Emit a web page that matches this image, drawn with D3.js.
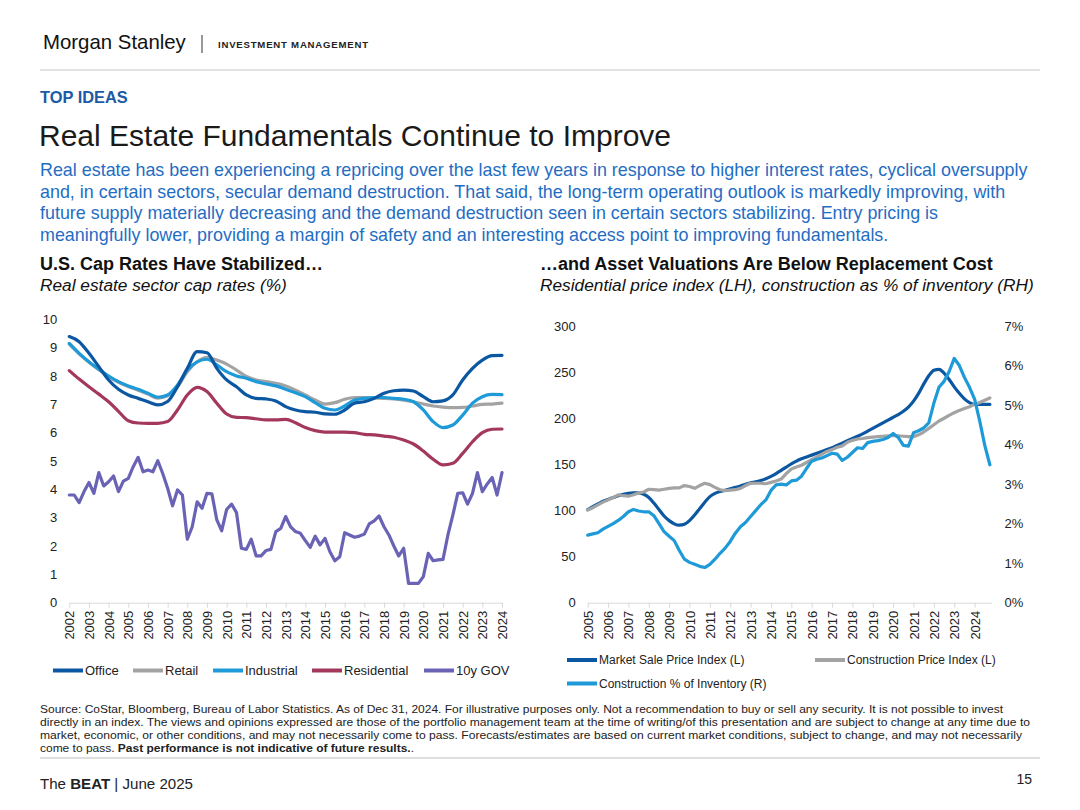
<!DOCTYPE html>
<html>
<head>
<meta charset="utf-8">
<script src="https://cdn.jsdelivr.net/npm/d3@7"></script>
<style>
  body { margin: 0; background: #fff; }
  svg { display: block; font-family: "Liberation Sans", Arial, Helvetica, sans-serif; }
</style>
</head>
<body>
<svg id="page" width="1080" height="810"></svg>
<script>
// ---------- left chart: cap rates (%), half-yearly 2002-2024 ----------
var capYears = d3.range(2002, 2025);
var capDates = d3.range(45).map(function(i) { return 2002 + i / 2; });
var capNames = ['Office', 'Retail', 'Industrial', 'Residential', '10y GOV'];

var office = [9.39, 9.21, 8.8, 8.33, 7.86, 7.53, 7.33, 7.21, 7.09, 6.98,
  7.1, 7.62, 8.27, 8.86, 8.82, 8.27, 7.86, 7.62, 7.33, 7.21,
  7.19, 7.12, 6.92, 6.8, 6.74, 6.72, 6.66, 6.65, 6.8, 7.04,
  7.09, 7.21, 7.39, 7.48, 7.5, 7.47, 7.27, 7.09, 7.12, 7.33,
  7.86, 8.27, 8.56, 8.72, 8.73];
var retail = [9.12, 8.78, 8.48, 8.22, 7.98, 7.78, 7.63, 7.5, 7.36, 7.22,
  7.3, 7.62, 8.15, 8.5, 8.66, 8.56, 8.42, 8.21, 7.98, 7.86,
  7.8, 7.74, 7.65, 7.5, 7.33, 7.15, 7.01, 7.06, 7.18, 7.24,
  7.24, 7.22, 7.21, 7.19, 7.15, 7.09, 7.01, 6.94, 6.9, 6.88,
  6.89, 6.94, 7.0, 7.01, 7.04];
var industrial = [9.15, 8.8, 8.5, 8.24, 8.0, 7.8, 7.65, 7.53, 7.39, 7.25,
  7.33, 7.68, 8.21, 8.5, 8.59, 8.39, 8.15, 8.0, 7.92, 7.8,
  7.72, 7.65, 7.53, 7.41, 7.27, 7.06, 6.86, 6.8, 6.94, 7.15,
  7.21, 7.24, 7.24, 7.21, 7.18, 7.09, 6.8, 6.39, 6.18, 6.27,
  6.62, 7.04, 7.27, 7.35, 7.34];
var residential = [8.19, 7.89, 7.62, 7.36, 7.09, 6.75, 6.42, 6.34, 6.33, 6.33,
  6.39, 6.8, 7.33, 7.6, 7.45, 7.04, 6.66, 6.54, 6.53, 6.49,
  6.45, 6.45, 6.47, 6.35, 6.18, 6.07, 6.02, 6.02, 6.02, 6.0,
  5.94, 5.92, 5.88, 5.84, 5.74, 5.6, 5.35, 5.06, 4.86, 4.92,
  5.27, 5.68, 6.0, 6.12, 6.13];

// 10y government yield, quarterly 2002-2024
var govDates = d3.range(89).map(function(i) { return 2002 + i / 4; });
var gov10y = [3.8, 3.8, 3.53, 3.92, 4.24, 3.86, 4.59, 4.12, 4.27, 4.47, 3.92, 4.29,
  4.39, 4.8, 5.13, 4.62, 4.68, 4.62, 5.01, 4.56, 4.04, 3.42, 3.98, 3.8,
  2.24, 2.68, 3.56, 3.33, 3.86, 3.84, 2.92, 2.54, 3.29, 3.48, 3.18, 1.92,
  1.88, 2.24, 1.65, 1.65, 1.84, 1.88, 2.51, 2.62, 3.04, 2.68, 2.51, 2.45,
  2.19, 1.95, 2.35, 2.04, 2.27, 1.8, 1.48, 1.62, 2.47, 2.39, 2.31, 2.35,
  2.42, 2.78, 2.89, 3.06, 2.68, 2.39, 2.0, 1.65, 1.92, 0.68, 0.68, 0.68,
  0.92, 1.74, 1.48, 1.51, 1.53, 2.39, 3.09, 3.86, 3.88, 3.48, 3.86, 4.59,
  3.92, 4.19, 4.42, 3.8, 4.59];

// ---------- right chart: quarterly 2005Q1-2024Q4 ----------
var resYears = d3.range(2005, 2025);
var resDates = d3.range(80).map(function(i) { return 2005 + i / 4; });
var resNames = ['Market Sale Price Index (L)', 'Construction Price Index (L)', 'Construction % of Inventory (R)'];

var marketSale = [101, 104, 107, 110, 112, 114, 116, 117.5, 118.5, 119,
  119, 117.5, 114, 108, 101, 94, 89, 85.5, 84, 85,
  89, 95, 102, 109, 115, 118.5, 120.5, 122, 123.5, 125,
  126.5, 128.5, 130, 131, 132.5, 134.5, 137, 140, 143.5, 147,
  150.5, 153.5, 156, 158, 160, 162, 164, 166, 168, 170.5,
  173, 175.5, 178, 180.5, 183, 186, 189, 192, 195, 198,
  201, 204, 207.5, 212, 218.5, 227, 237, 246, 252, 253,
  249, 242, 234, 227, 221, 217, 215, 215, 215, 215];
var constructionPrice = [100.5, 103, 106, 109, 111.5, 114, 117, 116, 115.5, 117,
  119, 120, 123, 122.5, 122, 123, 124, 124.5, 124.5, 127,
  126, 124, 127, 129.5, 128, 125, 122.5, 121.5, 122, 122.5,
  124, 127, 129.5, 129.5, 129.5, 129, 130.5, 132, 134, 140,
  145, 147, 149, 152, 155, 158, 161, 164, 166, 168.5,
  170, 174, 176, 177.5, 178, 179, 179.5, 180, 180.5, 181,
  181, 181, 180.5, 180, 180, 182, 185, 189, 193, 197,
  200, 203, 206, 208.5, 210.5, 212.5, 215, 217, 219.5, 222];
var constructionPct = [1.71, 1.74, 1.77, 1.86, 1.93, 2.0, 2.08, 2.18, 2.3, 2.36,
  2.32, 2.3, 2.3, 2.2, 2.0, 1.8, 1.68, 1.57, 1.32, 1.1,
  1.02, 0.97, 0.92, 0.89, 0.97, 1.1, 1.25, 1.38, 1.55, 1.76,
  1.92, 2.03, 2.18, 2.33, 2.48, 2.6, 2.84, 2.98, 3.0, 2.98,
  3.08, 3.1, 3.2, 3.4, 3.58, 3.63, 3.66, 3.72, 3.78, 3.76,
  3.6, 3.68, 3.8, 3.92, 3.9, 4.05, 4.08, 4.1, 4.13, 4.18,
  4.28, 4.18, 3.98, 3.96, 4.3, 4.35, 4.42, 4.55, 5.05, 5.45,
  5.6, 5.85, 6.18, 6.0, 5.7, 5.45, 5.15, 4.6, 3.98, 3.49];

var paragraph = [
  'Real estate has been experiencing a repricing over the last few years in response to higher interest rates, cyclical oversupply',
  'and, in certain sectors, secular demand destruction. That said, the long-term operating outlook is markedly improving, with',
  'future supply materially decreasing and the demand destruction seen in certain sectors stabilizing. Entry pricing is',
  'meaningfully lower, providing a margin of safety and an interesting access point to improving fundamentals.'
];
var footnote = [
  'Source: CoStar, Bloomberg, Bureau of Labor Statistics. As of Dec 31, 2024. For illustrative purposes only. Not a recommendation to buy or sell any security. It is not possible to invest',
  'directly in an index. The views and opinions expressed are those of the portfolio management team at the time of writing/of this presentation and are subject to change at any time due to',
  'market, economic, or other conditions, and may not necessarily come to pass.  Forecasts/estimates are based on current market conditions, subject to change, and may not necessarily'
];

var BLUE_DARK = '#0b57a2', GREY = '#a3a3a3', BLUE_LIGHT = '#1f9ad9', MAROON = '#a3385c', PURPLE = '#6a63b5';
var capColors = [BLUE_DARK, GREY, BLUE_LIGHT, MAROON, PURPLE];
var resColors = [BLUE_DARK, GREY, BLUE_LIGHT];

var svg = d3.select('#page');

// ---------- page header ----------
svg.append('text').attr('x', 43).attr('y', 49).attr('font-size', 20.4).attr('fill', '#111')
  .text('Morgan Stanley');
svg.append('line').attr('x1', 202).attr('x2', 202).attr('y1', 35).attr('y2', 53)
  .attr('stroke', '#555').attr('stroke-width', 1.2);
svg.append('text').attr('x', 218).attr('y', 47.5).attr('font-size', 9.6).attr('font-weight', 'bold')
  .attr('fill', '#222').attr('textLength', 150).attr('lengthAdjust', 'spacing')
  .text('INVESTMENT MANAGEMENT');
svg.append('line').attr('x1', 40).attr('x2', 1040).attr('y1', 70).attr('y2', 70)
  .attr('stroke', '#c8c8c8').attr('stroke-width', 1);

svg.append('text').attr('x', 40).attr('y', 103).attr('font-size', 16.4).attr('font-weight', 'bold')
  .attr('fill', '#1b5aa5').text('TOP IDEAS');
svg.append('text').attr('x', 39).attr('y', 146).attr('font-size', 30).attr('fill', '#1a1a1a')
  .text('Real Estate Fundamentals Continue to Improve');

svg.append('g').selectAll('text').data(paragraph).enter().append('text')
  .attr('x', 40)
  .attr('y', function(d, i) { return 176 + i * 21.7; })
  .attr('font-size', 17.9).attr('fill', '#1f6dc4')
  .text(function(d) { return d; });

svg.append('text').attr('x', 40).attr('y', 270).attr('font-size', 18).attr('font-weight', 'bold')
  .attr('fill', '#111').text('U.S. Cap Rates Have Stabilized\u2026');
svg.append('text').attr('x', 40).attr('y', 291).attr('font-size', 17.3).attr('font-style', 'italic')
  .attr('fill', '#111').text('Real estate sector cap rates (%)');
svg.append('text').attr('x', 540).attr('y', 270).attr('font-size', 18).attr('font-weight', 'bold')
  .attr('fill', '#111').text('\u2026and Asset Valuations Are Below Replacement Cost');
svg.append('text').attr('x', 540).attr('y', 291).attr('font-size', 17.3).attr('font-style', 'italic')
  .attr('fill', '#111').text('Residential price index (LH), construction as % of inventory (RH)');

// ---------- helpers ----------
function styleAxis(g) {
  g.attr('font-family', null).attr('font-size', 13);
  g.selectAll('text').attr('fill', '#222');
  g.selectAll('line').attr('stroke', '#d9d9d9');
  g.select('.domain').attr('stroke', '#d9d9d9');
}

function xAxis(g, x, years, y0) {
  g.attr('transform', 'translate(0,' + y0 + ')')
    .call(d3.axisBottom(x).tickValues(years).tickFormat(d3.format('d')).tickSize(5).tickSizeOuter(0))
    .call(styleAxis);
  g.selectAll('.tick text')
    .attr('transform', 'rotate(-90)')
    .attr('x', -8).attr('y', 0).attr('dy', '0.35em')
    .style('text-anchor', 'end');
}

function drawLine(dates, values, x, y, color, curve) {
  var line = d3.line()
    .x(function(d, i) { return x(dates[i]); })
    .y(function(d) { return y(d); })
    .curve(curve);
  svg.append('path').datum(values)
    .attr('d', line)
    .attr('fill', 'none')
    .attr('stroke', color)
    .attr('stroke-width', 3.2)
    .attr('stroke-linejoin', 'round')
    .attr('stroke-linecap', 'round');
}

function legendItem(x, y, color, label, size) {
  svg.append('line').attr('x1', x).attr('x2', x + 30).attr('y1', y).attr('y2', y)
    .attr('stroke', color).attr('stroke-width', 4);
  svg.append('text').attr('x', x + 32).attr('y', y).attr('dy', '0.35em')
    .attr('font-size', size).attr('fill', '#222').text(label);
}

// ---------- left chart ----------
var xL = d3.scaleLinear().domain([2002, 2024]).range([69.3, 502]);
var yL = d3.scaleLinear().domain([0, 10]).range([602.7, 319.3]);

svg.append('g').attr('transform', 'translate(69.3,0)')
  .call(d3.axisLeft(yL).ticks(10).tickSize(0).tickPadding(12))
  .call(styleAxis)
  .call(function(g) { g.select('.domain').remove(); });
svg.append('g').call(function(g) { xAxis(g, xL, capYears, 602.7); });

var capSeries = [office, retail, industrial, residential];
// drawn order: retail under industrial, office on top of both
[1, 2, 0, 3].forEach(function(k) {
  drawLine(capDates, capSeries[k], xL, yL, capColors[k], d3.curveMonotoneX);
});
drawLine(govDates, gov10y, xL, yL, PURPLE, d3.curveLinear);

var capLegendX = [53, 133, 213, 312, 424];
capNames.forEach(function(n, i) { legendItem(capLegendX[i], 670.5, capColors[i], n, 13); });

// ---------- right chart ----------
var xR = d3.scaleLinear().domain([2005, 2024.83]).range([587.7, 991.5]);
var yR = d3.scaleLinear().domain([0, 300]).range([602.7, 326]);
var yP = d3.scaleLinear().domain([0, 7]).range([602.7, 326]);

svg.append('g').attr('transform', 'translate(587.7,0)')
  .call(d3.axisLeft(yR).tickValues(d3.range(0, 301, 50)).tickSize(0).tickPadding(12))
  .call(styleAxis)
  .call(function(g) { g.select('.domain').remove(); });
svg.append('g').attr('transform', 'translate(991.5,0)')
  .call(d3.axisRight(yP).tickValues(d3.range(0, 8)).tickFormat(function(d) { return d + '%'; })
    .tickSize(0).tickPadding(13))
  .call(styleAxis)
  .call(function(g) { g.select('.domain').remove(); });
svg.append('g').call(function(g) { xAxis(g, xR, resYears, 602.7); });

drawLine(resDates, marketSale, xR, yR, BLUE_DARK, d3.curveMonotoneX);
drawLine(resDates, constructionPrice, xR, yR, GREY, d3.curveLinear);
drawLine(resDates, constructionPct, xR, yP, BLUE_LIGHT, d3.curveLinear);

legendItem(567, 660, resColors[0], resNames[0], 12);
legendItem(815, 660, resColors[1], resNames[1], 12);
legendItem(567, 683.5, resColors[2], resNames[2], 12);

// ---------- footer ----------
var noteFont = '"Liberation Sans Narrow", "Arial Narrow", "Liberation Sans", Arial, sans-serif';
var noteWidths = [963, 990, 982];
svg.append('g').selectAll('text').data(footnote).enter().append('text')
  .attr('x', 40)
  .attr('y', function(d, i) { return 713 + i * 13; })
  .attr('font-size', 11).attr('font-family', noteFont).attr('fill', '#222')
  .attr('textLength', function(d, i) { return noteWidths[i]; })
  .attr('lengthAdjust', 'spacingAndGlyphs')
  .text(function(d) { return d; });
var last = svg.append('text').attr('x', 40).attr('y', 752).attr('font-size', 11)
  .attr('font-family', noteFont).attr('fill', '#222')
  .attr('textLength', 374).attr('lengthAdjust', 'spacingAndGlyphs');
last.append('tspan').text('come to pass. ');
last.append('tspan').attr('font-weight', 'bold').text('Past performance is not indicative of future results.');
last.append('tspan').text('.');

svg.append('line').attr('x1', 40).attr('x2', 1040).attr('y1', 758).attr('y2', 758)
  .attr('stroke', '#bdbdbd').attr('stroke-width', 1);

var beat = svg.append('text').attr('x', 40).attr('y', 789).attr('font-size', 14)
  .attr('font-family', noteFont).attr('fill', '#222')
  .attr('textLength', 153).attr('lengthAdjust', 'spacingAndGlyphs');
beat.append('tspan').text('The ');
beat.append('tspan').attr('font-weight', 'bold').text('BEAT');
beat.append('tspan').text(' | June 2025');
svg.append('text').attr('x', 1032).attr('y', 784).attr('font-size', 14).attr('text-anchor', 'end')
  .attr('font-family', noteFont).attr('fill', '#222').text('15');
</script>
</body>
</html>
